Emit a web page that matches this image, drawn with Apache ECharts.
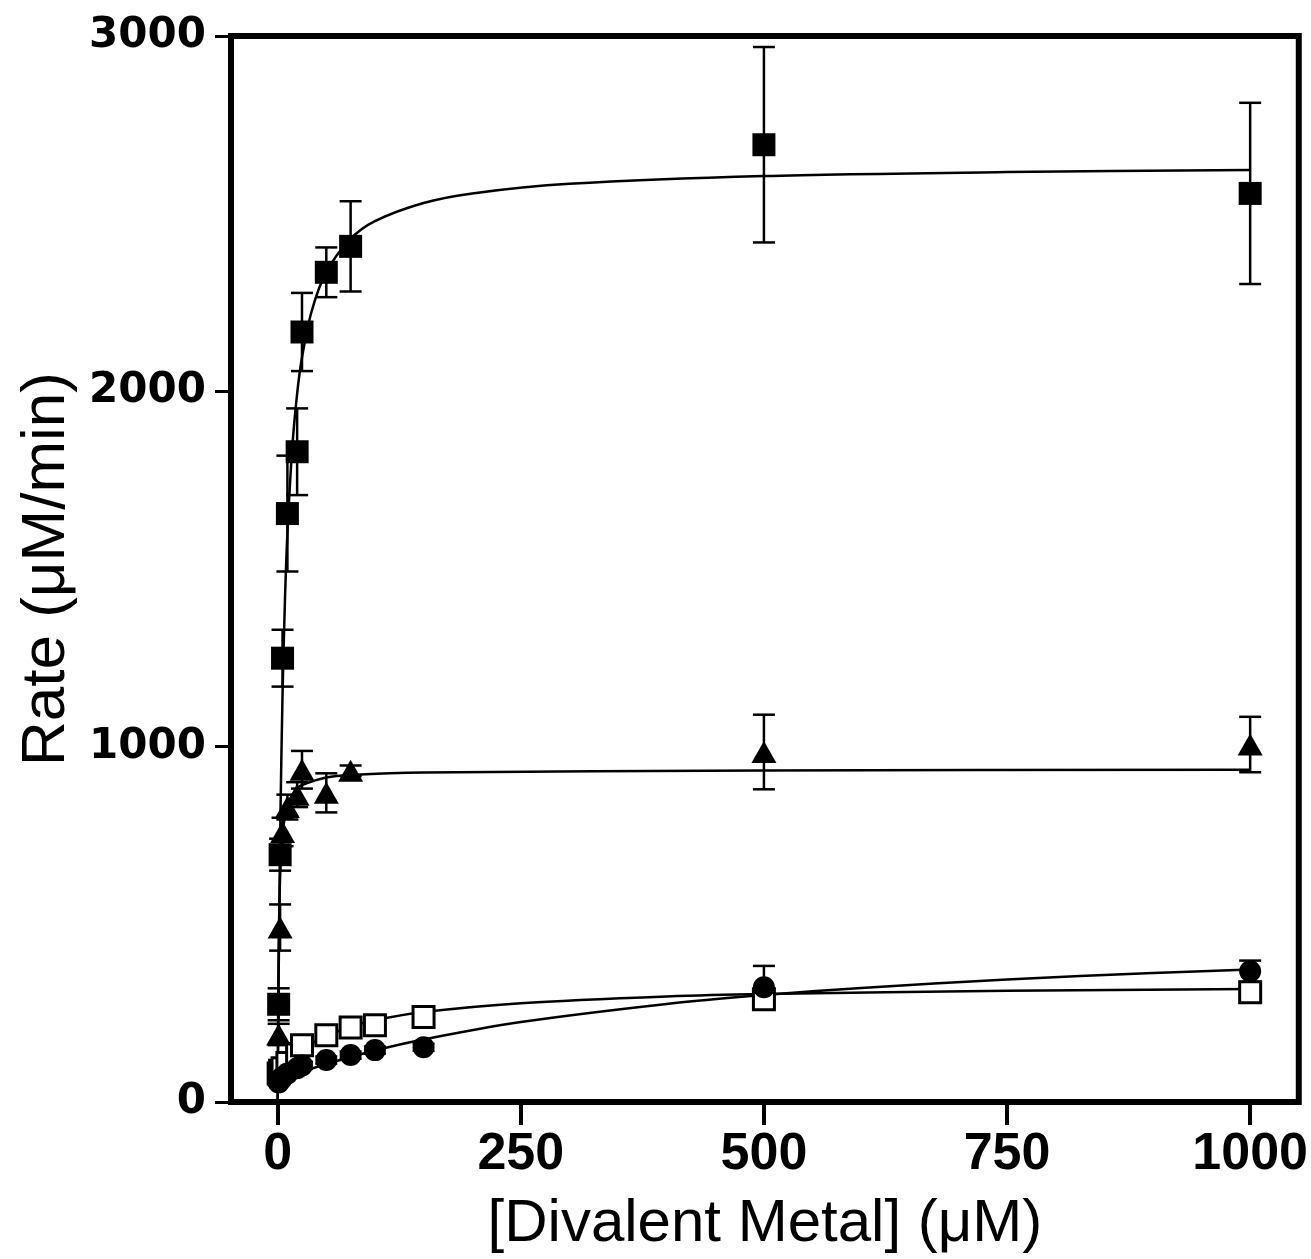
<!DOCTYPE html>
<html>
<head>
<meta charset="utf-8">
<script src="https://cdn.jsdelivr.net/npm/echarts@6/dist/echarts.min.js"></script>
<style>html,body{margin:0;padding:0;background:#fff}#c{width:1311px;height:1259px}</style>
</head>
<body>
<div id="c"></div>
<script>
// ---- data ----
const xTicks = [0, 250, 500, 750, 1000];
const yTicks = [0, 1000, 2000, 3000];

// filled squares
const sqX   = [1, 2.5, 5, 10, 20, 25, 50, 75, 500, 1000];
const sqY   = [275, 696, 1249, 1656, 1830, 2167, 2335, 2408, 2694, 2557];
const sqErr = [45, 45, 80, 163, 122, 110, 70, 127, 275, 255];
// triangles
const trX   = [1, 2.5, 5, 10, 20, 25, 50, 75, 500, 1000];
const trY   = [190, 491, 760, 830, 865, 935, 870, 932, 985, 1006];
const trErr = [30, 65, 40, 35, 35, 53, 55, 15, 105, 78];
// open squares
const osX   = [1, 2.5, 5, 10, 20, 25, 50, 75, 100, 150, 500, 1000];
const osY   = [80, 88, 95, 110, 135, 160, 188, 210, 216, 239, 289, 309];
const osErr = [8, 8, 8, 8, 10, 10, 10, 10, 10, 10, 20, 10];
// filled circles
const ciX   = [1, 2.5, 5, 10, 20, 25, 50, 75, 100, 150, 500, 1000];
const ciY   = [55, 62, 70, 80, 95, 103, 118, 132, 146, 154, 323, 368];
const ciErr = [8, 8, 8, 8, 10, 10, 10, 10, 10, 10, 60, 30];

// fitted curves
const sqFitX = [0, 0.5, 1, 2, 3, 5, 7.5, 10, 15, 20, 25, 35, 50, 75, 100, 150, 200, 300, 500, 750, 1000];
const sqFitY = [0, 189, 352, 621, 834, 1148, 1414, 1600, 1842, 1993, 2095, 2226, 2336, 2429, 2479, 2530, 2557, 2584, 2606, 2617, 2623];
const trFitX = [0, 0.5, 1, 2, 3, 5, 10, 20, 25, 50, 75, 150, 500, 1000];
const trFitY = [0, 275, 425, 584, 668, 754, 835, 882, 892, 913, 920, 927, 933, 935];
const osFitX = [0, 5, 10, 25, 50, 75, 100, 150, 250, 400, 500, 750, 1000];
const osFitY = [70, 95, 115, 150, 185, 212, 230, 253, 278, 297, 304, 313, 318];
const ciFitX = [0, 10, 25, 50, 100, 150, 250, 400, 500, 600, 750, 900, 1000];
const ciFitY = [60, 70, 85, 107, 145, 176, 225, 276, 301, 321, 345, 363, 373];

function pairs(xs, ys){ return xs.map((x,i)=>[x, ys[i]]); }
function errs(xs, ys, es){ return xs.map((x,i)=>[x, ys[i]-es[i], ys[i]+es[i]]); }

function errRender(params, api){
  const x = api.value(0), lo = api.value(1), hi = api.value(2);
  const p1 = api.coord([x, hi]), p2 = api.coord([x, lo]);
  const cw = 11;
  const st = {stroke:'#000', lineWidth:2.5};
  return {type:'group', children:[
    {type:'line', shape:{x1:p1[0], y1:p1[1], x2:p2[0], y2:p2[1]}, style:st},
    {type:'line', shape:{x1:p1[0]-cw, y1:p1[1], x2:p1[0]+cw, y2:p1[1]}, style:st},
    {type:'line', shape:{x1:p2[0]-cw, y1:p2[1], x2:p2[0]+cw, y2:p2[1]}, style:st}
  ]};
}

function fitSeries(xs, ys){
  return {type:'line', data:pairs(xs, ys), showSymbol:false, symbol:'none', smooth:0.3,
    lineStyle:{color:'#000', width:2.5, opacity:1}, z:2, silent:true};
}
function errSeries(xs, ys, es){
  return {type:'custom', data:errs(xs, ys, es), renderItem:errRender, z:3, silent:true,
    encode:{x:0, y:[1,2]}};
}
const plain = v => String(v);

const chart = echarts.init(document.getElementById('c'), null, {renderer:'canvas'});
chart.setOption({
  animation:false,
  backgroundColor:'#fff',
  grid:{left:231, right:12, top:36, bottom:154, show:true, borderColor:'#000', borderWidth:6, backgroundColor:'transparent'},
  xAxis:{
    type:'value', min:-48, max:1050,
    axisLine:{show:false, onZero:false},
    splitLine:{show:false},
    axisTick:{show:true, length:23, lineStyle:{color:'#000', width:4}, customValues:xTicks},
    axisLabel:{fontFamily:'Liberation Sans, Arial, sans-serif', fontWeight:'bold', fontSize:52, color:'#000', margin:27, customValues:xTicks, formatter:plain},
    name:'[Divalent Metal] (\u03BCM)', nameLocation:'middle', nameGap:92,
    nameTextStyle:{fontFamily:'Liberation Sans, Arial, sans-serif', fontSize:60, color:'#000'}
  },
  yAxis:{
    type:'value', min:0, max:3000, interval:1000,
    axisLine:{show:false, onZero:false},
    splitLine:{show:false},
    axisTick:{show:true, length:16, lineStyle:{color:'#000', width:3}},
    axisLabel:{fontFamily:'DejaVu Sans, sans-serif', fontWeight:'bold', fontSize:42, color:'#000', margin:25, formatter:plain},
    name:'Rate (\u03BCM/min)', nameLocation:'middle', nameGap:152,
    nameTextStyle:{fontFamily:'Liberation Sans, Arial, sans-serif', fontSize:62, color:'#000'}
  },
  series:[
    fitSeries(sqFitX, sqFitY),
    fitSeries(trFitX, trFitY),
    fitSeries(osFitX, osFitY),
    fitSeries(ciFitX, ciFitY),
    errSeries(sqX, sqY, sqErr),
    errSeries(trX, trY, trErr),
    errSeries(osX, osY, osErr),
    errSeries(ciX, ciY, ciErr),
    {type:'scatter', data:pairs(osX, osY), symbol:'rect', symbolSize:21, z:4,
      itemStyle:{color:'#fff', borderColor:'#000', borderWidth:3, opacity:1}},
    {type:'scatter', data:pairs(sqX, sqY), symbol:'rect', symbolSize:23, z:5, itemStyle:{color:'#000', opacity:1}},
    {type:'scatter', data:pairs(trX, trY), symbol:'triangle', symbolSize:[25,22], z:5, itemStyle:{color:'#000', opacity:1}},
    {type:'scatter', data:pairs(ciX, ciY), symbol:'circle', symbolSize:22, z:5, itemStyle:{color:'#000', opacity:1}}
  ]
});
</script>
</body>
</html>
